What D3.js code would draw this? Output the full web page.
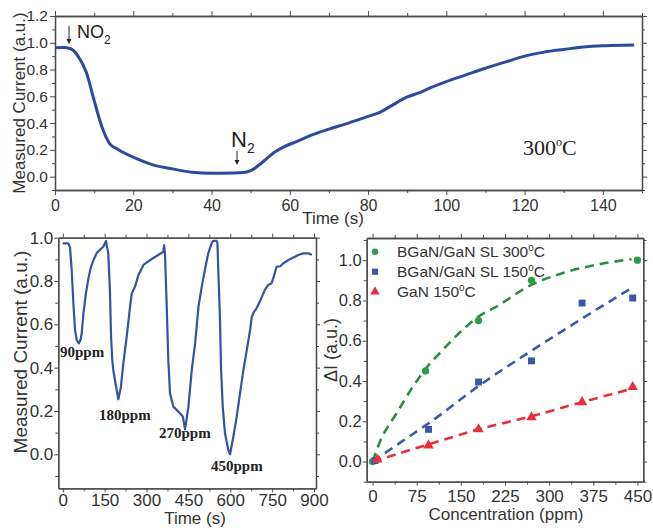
<!DOCTYPE html>
<html>
<head>
<meta charset="utf-8">
<script src="https://cdn.jsdelivr.net/npm/d3@7"></script>
<style>
    body { margin: 0; background: #fff; }
    svg { display: block; font-family: 'Liberation Sans', Arial, sans-serif; }
</style>
</head>
<body>
<script>
/* ---------------- DATA ---------------- */

// top panel: NO2 / N2 cycle at 300 C
let topTime = [0, 2, 4, 6, 8, 10, 12, 14, 16, 20, 25, 30, 35, 40, 45, 48, 50, 53, 56, 58, 62, 66, 70, 75, 80, 83, 86, 90, 93, 96, 100, 105, 110, 115, 120, 125, 130, 135, 140, 145, 148]
let topCurrent = [0.962, 0.965, 0.955, 0.895, 0.78, 0.57, 0.37, 0.245, 0.205, 0.145, 0.088, 0.058, 0.033, 0.025, 0.027, 0.03, 0.045, 0.107, 0.18, 0.215, 0.265, 0.315, 0.355, 0.40, 0.45, 0.48, 0.53, 0.595, 0.625, 0.665, 0.71, 0.76, 0.81, 0.855, 0.90, 0.93, 0.95, 0.968, 0.978, 0.982, 0.983]
let topXTicks = [0, 20, 40, 60, 80, 100, 120, 140]
let topXMinor = [10, 30, 50, 70, 90, 110, 130, 150]
let topYTicks = [0, 0.2, 0.4, 0.6, 0.8, 1.0, 1.2]
let topYMinor = [-0.1, 0.1, 0.3, 0.5, 0.7, 0.9, 1.1]

// bottom left: pulses at several concentrations
let pulseTime = [0, 20, 26, 32, 38, 44, 50, 58, 64, 68, 74, 83, 92, 100, 110, 122, 134, 145, 151, 155, 158, 163, 169, 173, 177, 181, 191, 199, 208, 217, 229, 241, 247, 259, 271, 289, 313, 342, 360, 363, 366, 372, 378, 384, 396, 414, 430, 438, 450, 462, 474, 486, 498, 510, 521, 533, 539, 551, 554, 557, 563, 567, 573, 581, 593, 599, 611, 623, 635, 647, 659, 671, 677, 685, 694, 706, 724, 736, 748, 754, 766, 778, 790, 808, 826, 844, 862, 880, 892]
let pulseCurrent = [0.974, 0.974, 0.955, 0.85, 0.697, 0.574, 0.527, 0.512, 0.53, 0.56, 0.651, 0.743, 0.813, 0.86, 0.897, 0.93, 0.945, 0.958, 0.974, 0.985, 0.96, 0.93, 0.75, 0.543, 0.44, 0.389, 0.312, 0.254, 0.31, 0.42, 0.543, 0.681, 0.743, 0.775, 0.828, 0.874, 0.897, 0.92, 0.935, 0.966, 0.93, 0.697, 0.435, 0.282, 0.22, 0.197, 0.174, 0.115, 0.22, 0.389, 0.512, 0.681, 0.775, 0.858, 0.928, 0.974, 0.985, 0.985, 0.975, 0.851, 0.628, 0.389, 0.22, 0.097, 0.02, 0.0, 0.081, 0.174, 0.282, 0.389, 0.481, 0.574, 0.635, 0.658, 0.674, 0.705, 0.759, 0.782, 0.79, 0.813, 0.867, 0.867, 0.882, 0.897, 0.909, 0.92, 0.928, 0.928, 0.92]
let pulseLabels = ['90ppm', '180ppm', '270ppm', '450ppm']
let pulseXTicks = [0, 150, 300, 450, 600, 750, 900]
let pulseXMinor = [75, 225, 375, 525, 675, 825]
let pulseYTicks = [0, 0.2, 0.4, 0.6, 0.8, 1.0]
let pulseYMinor = [-0.1, 0.1, 0.3, 0.5, 0.7, 0.9]

// bottom right: response vs concentration
let seriesNames = ['BGaN/GaN SL 300', 'BGaN/GaN SL 150', 'GaN 150']
let sl300Conc = [0, 90, 180, 270, 450]
let sl300Resp = [0, 0.45, 0.70, 0.90, 1.0]
let sl150Conc = [4, 95, 180, 270, 356, 442]
let sl150Resp = [0.005, 0.16, 0.395, 0.50, 0.787, 0.812]
let ganConc = [8, 95, 180, 270, 356, 442]
let ganResp = [0.01, 0.08, 0.16, 0.22, 0.295, 0.37]
let sl300FitConc = [0, 12, 40, 68, 90, 113, 152, 180, 209, 265, 321, 377, 440]
let sl300FitResp = [0, 0.095, 0.236, 0.369, 0.46, 0.535, 0.651, 0.72, 0.767, 0.87, 0.934, 0.975, 1.005]
let sl150FitConc = [0, 50, 100, 180, 270, 356, 442]
let sl150FitResp = [0, 0.1, 0.2, 0.375, 0.55, 0.71, 0.865]
let ganFitConc = [0, 95, 180, 270, 356, 445]
let ganFitResp = [0, 0.085, 0.16, 0.225, 0.295, 0.365]
let concXTicks = [0, 75, 150, 225, 300, 375, 450]
let concXMinor = [37.5, 112.5, 187.5, 262.5, 337.5, 412.5]
let respYTicks = [0, 0.2, 0.4, 0.6, 0.8, 1.0]
let respYMinor = [-0.1, 0.1, 0.3, 0.5, 0.7, 0.9, 1.1]

/* ---------------- HELPERS ---------------- */

const AXIS_COLOR = '#4a4a4a'
const TEXT_COLOR = '#333'

let svg = d3.select('body').append('svg').attr('width', 653).attr('height', 528)

// box with outward ticks on all 4 sides, labels only bottom + left
function drawBox(x, y, c) {
    let [xl, xr] = x.range(), [yb, yt] = y.range()
    let g = svg.append('g')
    let fmt = d3.format('.1f')

    let put = (axis, tx, ty) => g.append('g').attr('transform', 'translate(' + tx + ',' + ty + ')').call(axis)

    put(d3.axisBottom(x).tickValues(c.xMinor).tickSize(3).tickSizeOuter(0).tickFormat(''), 0, yb)
    put(d3.axisTop(x).tickValues(c.xMinor).tickSize(3).tickSizeOuter(0).tickFormat(''), 0, yt)
    put(d3.axisLeft(y).tickValues(c.yMinor).tickSize(3).tickSizeOuter(0).tickFormat(''), xl, 0)
    put(d3.axisRight(y).tickValues(c.yMinor).tickSize(3).tickSizeOuter(0).tickFormat(''), xr, 0)

    let bottom = put(d3.axisBottom(x).tickValues(c.xTicks).tickSize(c.tick).tickSizeOuter(0).tickPadding(c.xPad), 0, yb)
    put(d3.axisTop(x).tickValues(c.xTicks).tickSize(c.tick).tickSizeOuter(0).tickFormat(''), 0, yt)
    let left = put(d3.axisLeft(y).tickValues(c.yTicks).tickSize(c.tick).tickSizeOuter(0).tickPadding(c.yPad).tickFormat(fmt), xl, 0)
    put(d3.axisRight(y).tickValues(c.yTicks).tickSize(c.tick).tickSizeOuter(0).tickFormat(''), xr, 0)

    g.selectAll('.domain').attr('stroke', AXIS_COLOR).attr('stroke-width', 1.3)
    g.selectAll('.tick line').attr('stroke', AXIS_COLOR).attr('stroke-width', 1)
    bottom.selectAll('text').attr('font-size', c.xFont).attr('fill', TEXT_COLOR).attr('font-family', 'Liberation Sans, Arial')
    left.selectAll('text').attr('font-size', c.yFont).attr('fill', TEXT_COLOR).attr('font-family', 'Liberation Sans, Arial')
    return g
}

function title(txt, tx, ty, size, rotate) {
    return svg.append('text')
        .attr('transform', 'translate(' + tx + ',' + ty + ')' + (rotate ? ' rotate(-90)' : ''))
        .attr('text-anchor', 'middle').attr('font-size', size).attr('fill', TEXT_COLOR)
        .text(txt)
}

function arrowDown(ax, y0, y1) {
    svg.append('line').attr('x1', ax).attr('x2', ax).attr('y1', y0).attr('y2', y1 - 4)
        .attr('stroke', '#222').attr('stroke-width', 1)
    svg.append('path').attr('d', 'M' + (ax - 2.5) + ',' + (y1 - 5) + 'L' + (ax + 2.5) + ',' + (y1 - 5) + 'L' + ax + ',' + y1 + 'Z')
        .attr('fill', '#222')
}

/* ---------------- TOP PANEL ---------------- */

let xTop = d3.scaleLinear().domain([0, 150]).range([55, 642])
let yTop = d3.scaleLinear().domain([-0.1, 1.2]).range([190, 16])

drawBox(xTop, yTop, {
    xTicks: topXTicks, xMinor: topXMinor, yTicks: topYTicks, yMinor: topYMinor,
    tick: 5, xPad: 5, yPad: 2, xFont: 16, yFont: 15.5
})

svg.append('path')
    .datum(d3.zip(topTime, topCurrent))
    .attr('fill', 'none').attr('stroke', '#2c4a9e').attr('stroke-width', 3)
    .attr('d', d3.line().x(d => xTop(d[0])).y(d => yTop(d[1])).curve(d3.curveMonotoneX))

title('Time (s)', 333, 224, 17)
title('Measured Current (a.u.)', 25, 103, 17, true)

// NO2 / N2 markers
let no2 = svg.append('text').attr('x', 77).attr('y', 38).attr('font-size', 18).attr('fill', '#222')
no2.append('tspan').text('NO')
no2.append('tspan').attr('font-size', 12).attr('dy', 6).text('2')
arrowDown(69, 26, 44)

let n2 = svg.append('text').attr('x', 231).attr('y', 147).attr('font-size', 22).attr('fill', '#222')
n2.append('tspan').text('N')
n2.append('tspan').attr('font-size', 14).attr('dy', 6).text('2')
arrowDown(237, 151, 165)

let temp = svg.append('text').attr('x', 523).attr('y', 155).attr('font-size', 22)
    .attr('font-family', 'Liberation Serif, Times New Roman, serif').attr('fill', '#222')
temp.append('tspan').text('300')
temp.append('tspan').attr('font-size', 12).attr('dy', -9).text('o')
temp.append('tspan').attr('dy', 9).text('C')

/* ---------------- BOTTOM LEFT ---------------- */

let xPulse = d3.scaleLinear().domain([-16, 907]).range([58.3, 316])
let yPulse = d3.scaleLinear().domain([-0.157, 1.0]).range([488.3, 237.7])

drawBox(xPulse, yPulse, {
    xTicks: pulseXTicks, xMinor: pulseXMinor, yTicks: pulseYTicks, yMinor: pulseYMinor,
    tick: 4, xPad: 2, yPad: 1, xFont: 17, yFont: 17
})

svg.append('path')
    .datum(d3.zip(pulseTime, pulseCurrent))
    .attr('fill', 'none').attr('stroke', '#3553a5').attr('stroke-width', 2.2)
    .attr('stroke-linejoin', 'round')
    .attr('d', d3.line().x(d => xPulse(d[0])).y(d => yPulse(d[1])))

// ppm labels sit just under each minimum
let labelPos = [[60, 357], [99, 420], [159, 438], [211, 471]]
pulseLabels.forEach((t, i) => {
    svg.append('text').attr('x', labelPos[i][0]).attr('y', labelPos[i][1])
        .attr('font-family', 'Liberation Serif, Times New Roman, serif')
        .attr('font-weight', 'bold').attr('font-size', 15).attr('fill', '#222').text(t)
})

title('Time (s)', 195, 524, 17)
title('Measured Current (a.u.)', 27, 352, 19, true)

/* ---------------- BOTTOM RIGHT ---------------- */

let xConc = d3.scaleLinear().domain([-10, 460]).range([366.7, 643.3])
let yResp = d3.scaleLinear().domain([-0.1, 1.11]).range([481.7, 238])

drawBox(xConc, yResp, {
    xTicks: concXTicks, xMinor: concXMinor, yTicks: respYTicks, yMinor: respYMinor,
    tick: 4, xPad: 4, yPad: 1, xFont: 17, yFont: 16.5
})

let fitLine = d3.line().x(d => xConc(d[0])).y(d => yResp(d[1])).curve(d3.curveMonotoneX)
let series = [
    { fc: sl300FitConc, fr: sl300FitResp, c: sl300Conc, r: sl300Resp, line: '#2f8a46', fill: '#2e9b4b', sym: d3.symbolCircle, size: 42 },
    { fc: sl150FitConc, fr: sl150FitResp, c: sl150Conc, r: sl150Resp, line: '#3b5aa8', fill: '#3a57a5', sym: d3.symbolSquare, size: 48 },
    { fc: ganFitConc, fr: ganFitResp, c: ganConc, r: ganResp, line: '#e3323c', fill: '#e8303a', sym: d3.symbolTriangle, size: 48 }
]

for (let s of series) {
    svg.append('path').datum(d3.zip(s.fc, s.fr))
        .attr('fill', 'none').attr('stroke', s.line).attr('stroke-width', 2.6)
        .attr('stroke-dasharray', '9,6').attr('d', fitLine)
}
for (let s of series) {
    svg.selectAll(null).data(d3.zip(s.c, s.r)).enter().append('path')
        .attr('transform', d => 'translate(' + xConc(d[0]) + ',' + yResp(d[1]) + ')')
        .attr('d', d3.symbol(s.sym, s.size)).attr('fill', s.fill)
}

// legend
seriesNames.forEach((name, i) => {
    let ly = 251.7 + i * 20
    let s = series[i]
    svg.append('path').attr('transform', 'translate(375,' + ly + ')')
        .attr('d', d3.symbol(s.sym, s.size * 0.8)).attr('fill', s.fill)
    let t = svg.append('text').attr('x', 397).attr('y', ly + 5.5).attr('font-size', 15.5).attr('fill', TEXT_COLOR)
    t.append('tspan').text(name)
    t.append('tspan').attr('font-size', 10).attr('dy', -6).text('o')
    t.append('tspan').attr('dy', 6).text('C')
})

title('Concentration (ppm)', 506, 520, 17)
title('\u0394I (a.u.)', 337, 350, 18, true)
</script>
</body>
</html>
